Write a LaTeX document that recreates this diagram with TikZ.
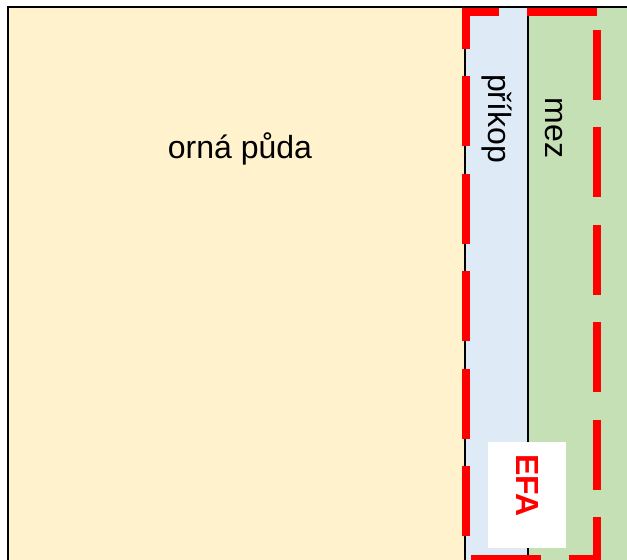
\documentclass[tikz,border=0pt]{standalone}
\usepackage{fontspec}
\setmainfont{Liberation Sans}
\usepackage{xcolor}
\definecolor{fieldyellow}{HTML}{FFF2CC}
\definecolor{ditchblue}{HTML}{DEEBF7}
\definecolor{balkgreen}{HTML}{C5E0B4}
\newcommand\mylabelfont{\fontsize{32}{38}\selectfont}

\begin{document}
\begin{tikzpicture}[x=1pt,y=1pt]
			\tikzset{
				border/.style={line width=2pt, black},
				efaline/.style={line width=8pt, red, dash pattern=on 70pt off 27.57pt},
				label/.style={font=\mylabelfont, inner sep=0pt}
			}
			\useasboundingbox (0,0) rectangle (627,560);
			\fill[white] (0,0) rectangle (627,560);
			\fill[fieldyellow] (8,0) rectangle (465,553);
			\fill[ditchblue] (465,0) rectangle (528,553);
			\fill[balkgreen] (528,0) rectangle (627,553);
			\draw[border] (8,0) -- (8,553) -- (627,553);
			\draw[border] (465,0) -- (465,553);
			\draw[border] (528,0) -- (528,553);
			\node[label, anchor=base] (pole) at (240,401) {orná půda};
			\node[label, rotate=-90] (prikop) at (496.5,441.5) {příkop};
			\node[label, rotate=-90] (mez) at (554,432) {mez};
			\node[fill=white, minimum width=78pt, minimum height=106pt, inner sep=0pt] (efabox) at (527,65) {};
			\node[label, rotate=-90, text=red, font=\mylabelfont\bfseries] (efa) at (528,74.5) {EFA};
			\draw[efaline] (597,548) -- (466,548) -- (466,1) -- (597,1) -- (597,548);
		\end{tikzpicture}
\end{document}
